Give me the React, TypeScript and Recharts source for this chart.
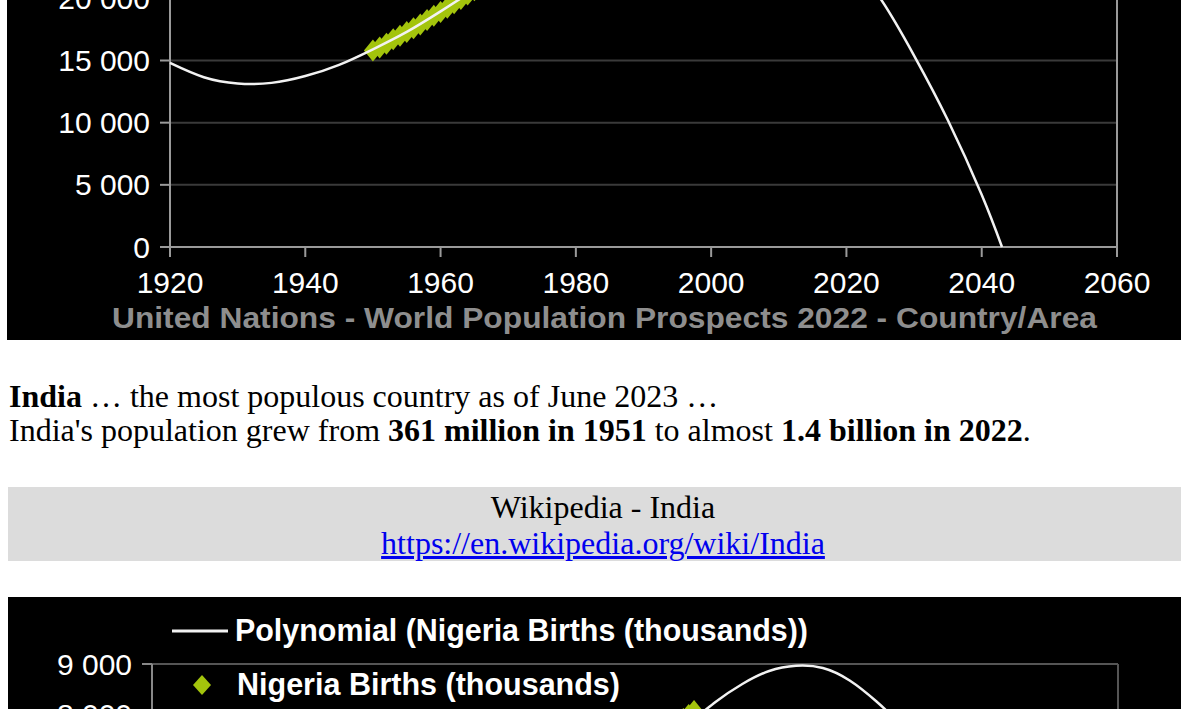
import React from 'react';
import {
  ComposedChart,
  Line,
  Scatter,
  XAxis,
  YAxis,
  CartesianGrid,
  ReferenceLine,
  Legend,
  Label
} from 'recharts';

const GREEN = '#a3c40c';
const TREND = '#f2f2f2';
const AXIS = '#9a9a9a';
const GRID = '#3a3a3a';
const TICK_FONT = '"Liberation Sans", Arial, sans-serif';

// India births (thousands), one value per year from 1950
const indiaFirstYear = 1950;
const indiaBirthValues = [
  15800, 16050, 16350, 16700, 17000, 17300, 17600, 17900, 18250, 18600,
  18900, 19250, 19600, 19950, 20300, 20650, 21000, 21300, 21650, 22000,
  22350, 22650, 22950, 23300, 23650, 24000, 24300, 24600, 24950, 25250,
  25550, 25850, 26100, 26350, 26600, 26850, 27050, 27250, 27400, 27550,
  27700, 27750, 27800, 27850, 27900, 27950, 27950, 27950, 27950, 27900,
  27850, 27800, 27700, 27600, 27450, 27300, 27100, 26900, 26650, 26400,
  26100, 25800, 25500, 25200, 24900, 24550, 24200, 23900, 23650, 23400,
  23200, 23000
];

// polynomial trend of the India series
const indiaTrendYears = [
  1920, 1925, 1930, 1935, 1940, 1945, 1950, 1955, 1960, 1965, 1970, 1975, 1980,
  1985, 1990, 1995, 2000, 2005, 2010, 2015, 2020, 2025, 2030, 2035, 2040, 2043
];
const indiaTrendValues = [
  14800, 13650, 13150, 13200, 13750, 14650, 15900, 17300, 18950, 20700, 22450, 24150, 25650,
  26950, 27950, 28580, 28740, 28370, 27390, 25720, 23280, 20000, 15400, 10200, 4200, 0
];

const indiaYearTicks = [1920, 1940, 1960, 1980, 2000, 2020, 2040, 2060];
const indiaValueTicks = [0, 5000, 10000, 15000, 20000, 25000, 30000];
const indiaSource = 'United Nations - World Population Prospects 2022 - Country/Area';

// Nigeria births (thousands), one value per year from 1950
const nigeriaFirstYear = 1950;
const nigeriaBirthValues = [
  1650, 1690, 1730, 1770, 1810, 1860, 1910, 1960, 2010, 2060,
  2120, 2180, 2240, 2300, 2370, 2440, 2510, 2580, 2650, 2730,
  2810, 2890, 2980, 3070, 3170, 3270, 3380, 3490, 3600, 3710,
  3820, 3920, 4010, 4090, 4170, 4250, 4340, 4430, 4520, 4620,
  4720, 4820, 4920, 5020, 5120, 5230, 5340, 5450, 5560, 5680,
  5800, 5920, 6040, 6160, 6280, 6400, 6520, 6640, 6760, 6880,
  7000, 7110, 7220, 7330, 7440, 7540, 7640, 7730, 7820, 7900,
  7980, 8060
];

const nigeriaTrendYears = [
  1950, 1955, 1960, 1965, 1970, 1975, 1980, 1985, 1990, 1995, 2000, 2005,
  2010, 2015, 2020, 2025, 2030, 2035, 2040, 2045, 2050, 2055, 2060, 2065
];
const nigeriaTrendValues = [
  1500, 1750, 2050, 2400, 2800, 3250, 3750, 4250, 4800, 5350, 5900, 6450,
  7000, 7500, 7830, 8240, 8600, 8860, 8965, 8920, 8670, 8250, 7700, 6900
];

const nigeriaYearTicks = [1920, 1940, 1960, 1980, 2000, 2020, 2040, 2060, 2080, 2100];
const nigeriaValueTicks = [0, 1000, 2000, 3000, 4000, 5000, 6000, 7000, 8000, 9000];
const nigeriaTrendName = 'Polynomial (Nigeria Births (thousands))';
const nigeriaBirthsName = 'Nigeria Births (thousands)';

const indiaBirths = indiaBirthValues.map((value, i) => ({ year: indiaFirstYear + i, value }));
const indiaTrend = indiaTrendYears.map((year, i) => ({ year, value: indiaTrendValues[i] }));
const nigeriaBirths = nigeriaBirthValues.map((value, i) => ({ year: nigeriaFirstYear + i, value }));
const nigeriaTrend = nigeriaTrendYears.map((year, i) => ({ year, value: nigeriaTrendValues[i] }));

// "15000" -> "15 000"
const spaced = (v: number) => String(v).replace(/\B(?=(\d{3})+(?!\d))/g, ' ');

const diamondPath = (cx: number, cy: number, rx: number, ry: number) =>
  `M${cx} ${cy - ry}L${cx + rx} ${cy}L${cx} ${cy + ry}L${cx - rx} ${cy}Z`;

const DiamondDot = (props: any) => (
  <path d={diamondPath(props.cx, props.cy, 9, 11)} fill={GREEN} />
);

const tickStyle = { fill: '#fff', fontSize: 30, fontFamily: TICK_FONT };
const axisStroke = { stroke: AXIS, strokeWidth: 2 };

function IndiaChart() {
  return (
    <div style={{ position: 'absolute', left: 7, top: 0, width: 1191, height: 340, background: '#000', overflow: 'hidden' }}>
      <div style={{ position: 'absolute', left: 0, top: -160 }}>
        <ComposedChart width={1191} height={500} margin={{ top: 34, right: 81, left: 0, bottom: 53 }}>
          <CartesianGrid vertical={false} stroke={GRID} strokeWidth={2} />
          <XAxis
            type="number"
            dataKey="year"
            domain={[1920, 2060]}
            ticks={indiaYearTicks}
            height={40}
            tick={tickStyle}
            tickSize={10}
            tickMargin={15}
            axisLine={axisStroke}
            tickLine={axisStroke}
          >
            <Label
              content={() => (
                <text
                  x={105}
                  y={488}
                  textLength={985}
                  lengthAdjust="spacingAndGlyphs"
                  fill="#8e8e8e"
                  fontSize={29}
                  fontWeight="bold"
                  fontFamily={TICK_FONT}
                >
                  {indiaSource}
                </text>
              )}
            />
          </XAxis>
          <YAxis
            type="number"
            domain={[0, 30000]}
            ticks={indiaValueTicks}
            width={163}
            tick={tickStyle}
            tickFormatter={spaced}
            tickSize={10}
            tickMargin={10}
            axisLine={axisStroke}
            tickLine={axisStroke}
          />
          <ReferenceLine x={2060} stroke={AXIS} strokeWidth={2} />
          <Scatter
            name="India Births (thousands)"
            data={indiaBirths}
            dataKey="value"
            shape={DiamondDot}
            isAnimationActive={false}
          />
          <Line
            name="Polynomial (India Births (thousands))"
            data={indiaTrend}
            dataKey="value"
            type="natural"
            stroke={TREND}
            strokeWidth={2.5}
            dot={false}
            activeDot={false}
            zIndex={700}
            isAnimationActive={false}
          />
        </ComposedChart>
      </div>
    </div>
  );
}

const NigeriaLegend = () => (
  <svg width={900} height={110} style={{ display: 'block' }}>
    <line x1={164} x2={220} y1={34} y2={34} stroke={TREND} strokeWidth={3} />
    <text
      x={227}
      y={44}
      textLength={573}
      lengthAdjust="spacingAndGlyphs"
      fill="#fff"
      fontSize={31}
      fontWeight="bold"
      fontFamily={'"Liberation Sans Narrow", "Arial Narrow", ' + TICK_FONT}
    >
      {nigeriaTrendName}
    </text>
    <path d={diamondPath(194, 88, 9, 10)} fill={GREEN} />
    <text
      x={229}
      y={98}
      textLength={383}
      lengthAdjust="spacingAndGlyphs"
      fill="#fff"
      fontSize={31}
      fontWeight="bold"
      fontFamily={'"Liberation Sans Narrow", "Arial Narrow", ' + TICK_FONT}
    >
      {nigeriaBirthsName}
    </text>
  </svg>
);

function NigeriaChart() {
  return (
    <div style={{ position: 'absolute', left: 8, top: 597, width: 1190, height: 600, background: '#000' }}>
      <ComposedChart width={1190} height={600} margin={{ top: 67, right: 80, left: 0, bottom: 43 }}>
        <CartesianGrid vertical={false} stroke={GRID} strokeWidth={2} />
        <XAxis
          type="number"
          dataKey="year"
          domain={[1920, 2100]}
          ticks={nigeriaYearTicks}
          height={40}
          tick={tickStyle}
          tickSize={10}
          tickMargin={15}
          axisLine={{ stroke: '#888', strokeWidth: 2 }}
          tickLine={{ stroke: '#888', strokeWidth: 2 }}
        />
        <YAxis
          type="number"
          domain={[0, 9000]}
          ticks={nigeriaValueTicks}
          width={144}
          tick={tickStyle}
          tickFormatter={spaced}
          tickSize={10}
          tickMargin={10}
          axisLine={{ stroke: '#888', strokeWidth: 2 }}
          tickLine={{ stroke: '#888', strokeWidth: 2 }}
        />
        <ReferenceLine y={9000} stroke="#555" strokeWidth={2} />
        <ReferenceLine x={2100} stroke="#555" strokeWidth={2} />
        <Legend
          layout="vertical"
          align="center"
          verticalAlign="middle"
          content={NigeriaLegend}
          wrapperStyle={{ top: 0, left: 0, width: 900, height: 110 }}
        />
        <Scatter
          name={nigeriaBirthsName}
          data={nigeriaBirths}
          dataKey="value"
          shape={DiamondDot}
          isAnimationActive={false}
        />
        <Line
          name={nigeriaTrendName}
          data={nigeriaTrend}
          dataKey="value"
          type="natural"
          stroke={TREND}
          strokeWidth={2.5}
          dot={false}
          activeDot={false}
          zIndex={700}
          isAnimationActive={false}
        />
      </ComposedChart>
    </div>
  );
}

const serif = '"Liberation Serif", "Times New Roman", serif';

export default function App() {
  return (
    <div style={{ position: 'absolute', left: 0, top: 0, width: 1181, height: 709, overflow: 'hidden', background: '#fff' }}>
      <IndiaChart />
      <div
        style={{
          position: 'absolute',
          left: 9,
          top: 379,
          fontFamily: serif,
          fontSize: 32,
          lineHeight: '34px',
          whiteSpace: 'nowrap',
          color: '#000'
        }}
      >
        <div><b>India</b> … the most populous country as of June 2023 …</div>
        <div>
          India's population grew from <b>361 million in 1951</b> to almost <b>1.4 billion in 2022</b>.
        </div>
      </div>
      <div
        style={{
          position: 'absolute',
          left: 8,
          top: 487,
          width: 1190,
          height: 74,
          boxSizing: 'border-box',
          paddingTop: 2,
          background: '#dcdcdc',
          textAlign: 'center',
          fontFamily: serif,
          fontSize: 32,
          lineHeight: '36px',
          color: '#000'
        }}
      >
        <div>Wikipedia - India</div>
        <a href="https://en.wikipedia.org/wiki/India" style={{ color: '#0000ee' }}>
          https://en.wikipedia.org/wiki/India
        </a>
      </div>
      <NigeriaChart />
    </div>
  );
}
